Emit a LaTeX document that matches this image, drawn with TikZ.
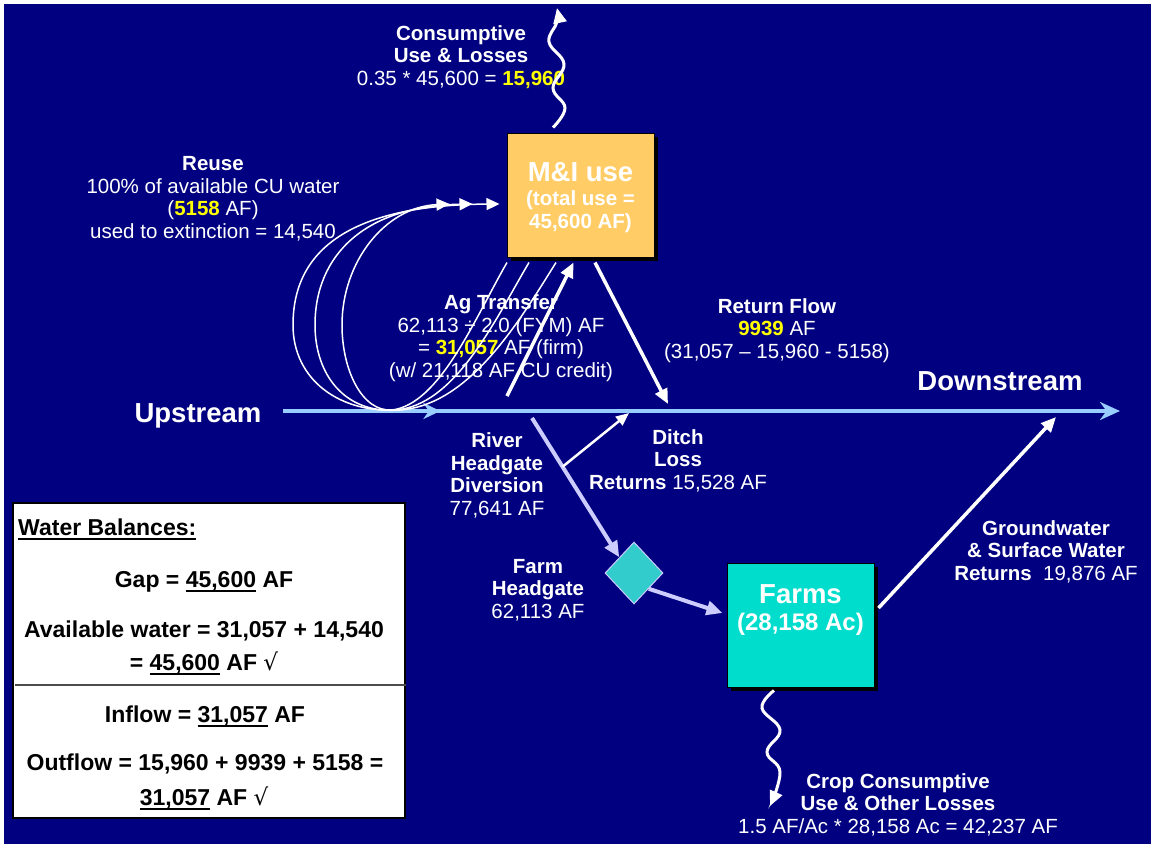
\documentclass[tikz,border=0pt]{standalone}
\usepackage{fontspec}
\setmainfont{Liberation Sans}
\newfontfamily\dejavu{DejaVu Sans}
\usetikzlibrary{arrows.meta,shapes.geometric,shadows,decorations.markings,calc}
\definecolor{mynavy}{RGB}{0,0,128}
\definecolor{orangebox}{RGB}{255,204,102}
\definecolor{farmteal}{RGB}{0,221,204}
\definecolor{diateal}{RGB}{51,204,204}
\definecolor{lav}{RGB}{204,204,255}
\definecolor{riverblue}{RGB}{153,204,255}
\definecolor{ylw}{RGB}{255,255,0}
\newcommand{\ylw}[1]{\textbf{\textcolor{ylw}{#1}}}
\newcommand{\chk}{{\dejavu\mdseries √}}
\newsavebox{\ulbox}
\newcommand{\myul}[1]{\sbox{\ulbox}{#1}\rlap{\rule[-5.2pt]{\wd\ulbox}{2.2pt}}\usebox{\ulbox}}
\begin{document}
\begin{tikzpicture}[x=1pt,y=-1pt,
  txt/.style={text=white,font=\fontsize{20.5}{22.5}\selectfont,align=center,inner sep=0pt,anchor=base},
  bigtxt/.style={text=white,font=\fontsize{27.5}{30}\selectfont\bfseries,inner sep=0pt,anchor=base},
  bal/.style={text=black,font=\fontsize{23}{26}\selectfont\bfseries,inner sep=0pt,anchor=base},
  boxnode/.style={draw=black,line width=1pt,minimum width=147pt,minimum height=124pt,inner sep=0pt,
    drop shadow={shadow xshift=4pt,shadow yshift=-4pt,opacity=1,fill=black}},
  warr/.style={draw=white,line width=3.5pt,-{Triangle[length=15pt,width=13pt]}},
  thinarr/.style={draw=white,line width=2.5pt,-{Triangle[length=13pt,width=11pt]}},
  lavarr/.style={draw=lav,line width=4pt,-{Triangle[length=16pt,width=14pt]}},
  reusearr/.style={draw=white,line width=1.5pt,-{Triangle[length=13pt,width=12pt]}},
  wavy/.style={draw=white,line width=3pt,-{Triangle[length=15pt,width=13pt]}},
  river/.style={draw=riverblue,line width=4pt,-{Stealth[length=20pt,width=18pt]}}
]
\useasboundingbox (0,0) rectangle (1151,844);
\fill[white] (0,0) rectangle (1151,844);
\fill[mynavy] (4,4) rectangle (1151,844);

% boxes
\node[boxnode,fill=orangebox] (mi) at (580.5,195) {};
\node[txt,font=\fontsize{20.5}{22.5}\selectfont\bfseries] (mitxt) at (580.5,228)
  {{\fontsize{27.5}{22.5}\selectfont M\&I use}\\[1.5pt](total use =\\45,600 AF)};
\node[boxnode,fill=farmteal] (farm) at (800.5,625) {};
\node[txt,font=\fontsize{24}{27}\selectfont\bfseries] (farmtxt) at (800.5,630)
  {{\fontsize{27.5}{27}\selectfont Farms}\\(28,158 Ac)};
\node[diamond,draw=lav,line width=1pt,fill=diateal,minimum width=58pt,minimum height=62pt,inner sep=0pt] (dia) at (634,573) {};

% water balance box
\node[draw=black,line width=1.5pt,fill=white,minimum width=392pt,minimum height=315pt,inner sep=0pt] (wb) at (209,660.5) {};
\draw[black!70,line width=1.5pt] ($(wb.west)+(3,24.5)$) -- ($(wb.east)+(0,24.5)$);
\node[bal,anchor=base west] (wbt) at (18,535) {\myul{Water Balances:}};
\node[bal] (gap) at (204,587) {Gap = \myul{45,600} AF};
\node[bal] (avail) at (204,637) {Available water = 31,057 + 14,540};
\node[bal] (avail2) at (204,670) {= \myul{45,600} AF \chk};
\node[bal] (infl) at (205,722) {Inflow = \myul{31,057} AF};
\node[bal] (outf) at (205,770) {Outflow = 15,960 + 9939 + 5158 =};
\node[bal] (outf2) at (204,805) {\myul{31,057} AF \chk};

% labels (y = baseline of last line)
\node[txt] (cu) at (461,85) {\textbf{Consumptive}\\\textbf{Use \& Losses}\\0.35 * 45,600 = \ylw{15,960}};
\node[txt] (reuse) at (213,238) {\textbf{Reuse}\\100\% of available CU water\\(\ylw{5158} AF)\\used to extinction = 14,540};
\node[txt] (ag) at (501,377) {\textbf{Ag Transfer}\\62,113 ÷ 2.0 (FYM) AF\\= \ylw{31,057} AF (firm)\\(w/ 21,118 AF CU credit)};
\node[txt] (rf) at (777,358) {\textbf{Return Flow}\\\ylw{9939} AF\\(31,057 – 15,960 - 5158)};
\node[bigtxt] (down) at (1000,390) {Downstream};
\node[bigtxt] (up) at (198,422) {Upstream};
\node[txt] (rhd) at (497,515) {\textbf{River}\\\textbf{Headgate}\\\textbf{Diversion}\\77,641 AF};
\node[txt] (dl) at (678,489) {\textbf{Ditch}\\\textbf{Loss}\\\textbf{Returns} 15,528 AF};
\node[txt] (fh) at (538,618) {\textbf{Farm}\\\textbf{Headgate}\\62,113 AF};
\node[txt] (gw) at (1046,580) {\textbf{Groundwater}\\\textbf{\& Surface Water}\\\textbf{Returns}\ \ 19,876 AF};
\node[txt] (crop) at (898,833) {\textbf{Crop Consumptive}\\\textbf{Use \& Other Losses}\\1.5 AF/Ac * 28,158 Ac = 42,237 AF};

% coordinates
\coordinate (rs) at (283,411);
\coordinate (re) at (1120,411);
\coordinate (cuS) at ($(mi.north)+(-27.5,-5)$);
\coordinate (cuE) at (557,8);
\coordinate (crS) at ($(farm.south)+(-26.5,3)$);
\coordinate (crE) at (770,806);
\coordinate (agS) at (507,396);
\coordinate (agE) at ($(mi.south)+(-7,5)$);
\coordinate (rfS) at ($(mi.south)+(14.5,5)$);
\coordinate (rfE) at (668,404);
\coordinate (dvS) at (532,418);
\coordinate (dkS) at ($(dvS)!0.35!(dia.north west)$);
\coordinate (dkE) at (629,413);
\coordinate (fhE) at ($(farm.west)+(-4,-12)$);
\coordinate (gwS) at ($(farm.east)+(4,-17)$);
\coordinate (gwE) at (1056,417);
\coordinate (s1) at ($(mi.south)+(-73.5,5)$);
\coordinate (s2) at ($(mi.south)+(-51.5,5)$);
\coordinate (s3) at ($(mi.south)+(-24.5,5)$);
\coordinate (a1) at ($(mi.west)+(-57,9)$);
\coordinate (a2) at ($(mi.west)+(-34,9)$);
\coordinate (a3) at ($(mi.west)+(-7,9)$);

% river
\draw[river,postaction={decorate},decoration={markings,mark=at position 0.188 with {\arrow{Stealth[length=17pt,width=16pt]}}}] (rs) -- (re);

% reuse loops
\draw[reusearr] (s3) .. controls (520,320) and (470,405) .. (400,410) .. controls (340,414) and (293,380) .. (293,325) .. controls (293,250) and (350,205) .. (a3);
\draw[reusearr] (s2) .. controls (495,320) and (455,406) .. (395,410) .. controls (345,413) and (315,375) .. (315,325) .. controls (315,255) and (365,206) .. (a2);
\draw[reusearr] (s1) .. controls (475,318) and (440,404) .. (392,410) .. controls (362,412) and (342,370) .. (342,325) .. controls (342,262) and (385,207) .. (a1);

% arrows
\draw[warr] (agS) -- (agE);
\draw[warr] (rfS) -- (rfE);
\draw[lavarr] (dvS) -- (dia.north west);
\draw[thinarr] (dkS) -- (dkE);
\draw[lavarr] (dia.south east) -- (fhE);
\draw[warr] (gwS) -- (gwE);
\draw[wavy] plot[smooth,tension=0.7] coordinates {(cuS) (565,108) (553,88) (564,64) (549,42) (557,22) (cuE)};
\draw[wavy] plot[smooth,tension=0.7] coordinates {(crS) (762,708) (780,730) (767,752) (780,772) (crE)};
\end{tikzpicture}
\end{document}
